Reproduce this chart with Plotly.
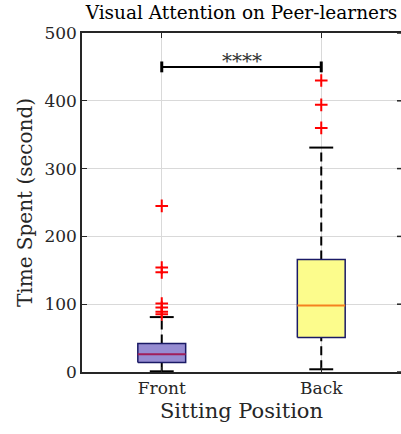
import plotly.graph_objects as go

# ---- data ----
categories = ["Front", "Back"]
cat_pos = [1, 2]
q1 = [14, 51]
median = [26, 98]
q3 = [42, 166]
whisker_low = [1, 4]
whisker_high = [81, 331]
outliers = [
    [245, 154, 147, 101, 95, 89, 85],
    [430, 394, 360],
]
sig_pair = [1, 2]
sig_y = 450
sig_label = "****"
y_ticks = [0, 100, 200, 300, 400, 500]

# ---- style ----
FONT = "DejaVu Serif"
fills = ["rgba(150,140,210,1)", "rgba(252,252,140,1)"]
median_colors = ["#A01E5A", "#F5821E"]
edge = "#1A1A66"
half_box = 0.15
half_cap = 0.075
AX = "#262626"

fig = go.Figure()

for i, c in enumerate(cat_pos):
    # whiskers (dashed)
    fig.add_trace(go.Scatter(x=[c, c], y=[q3[i], whisker_high[i]], mode="lines",
                             line=dict(color="black", width=2, dash="9px,5px"),
                             hoverinfo="skip", showlegend=False))
    fig.add_trace(go.Scatter(x=[c, c], y=[whisker_low[i], q1[i]], mode="lines",
                             line=dict(color="black", width=2, dash="9px,5px"),
                             hoverinfo="skip", showlegend=False))
    # caps
    for yv in (whisker_low[i], whisker_high[i]):
        fig.add_trace(go.Scatter(x=[c - half_cap, c + half_cap], y=[yv, yv], mode="lines",
                                 line=dict(color="black", width=2),
                                 hoverinfo="skip", showlegend=False))
    # box
    fig.add_trace(go.Scatter(
        x=[c - half_box, c + half_box, c + half_box, c - half_box, c - half_box],
        y=[q1[i], q1[i], q3[i], q3[i], q1[i]],
        mode="lines", fill="toself", fillcolor=fills[i],
        line=dict(color=edge, width=1.5), hoverinfo="skip", showlegend=False))
    # median
    fig.add_trace(go.Scatter(x=[c - half_box, c + half_box], y=[median[i], median[i]],
                             mode="lines", line=dict(color=median_colors[i], width=2),
                             hoverinfo="skip", showlegend=False))
    # outliers
    fig.add_trace(go.Scatter(x=[c] * len(outliers[i]), y=outliers[i], mode="markers",
                             marker=dict(symbol="cross-thin", size=9,
                                         line=dict(color="red", width=2)),
                             showlegend=False))

# significance bar
fig.add_trace(go.Scatter(x=sig_pair, y=[sig_y, sig_y], mode="lines",
                         line=dict(color="black", width=2), showlegend=False))
for xv in sig_pair:
    fig.add_trace(go.Scatter(x=[xv, xv], y=[sig_y - 8, sig_y + 8], mode="lines",
                             line=dict(color="black", width=3), showlegend=False))
fig.add_annotation(x=sum(sig_pair) / 2, y=sig_y + 8, text=sig_label, showarrow=False,
                   yanchor="middle", font=dict(family=FONT, size=20, color="#333"))

# right-side tick marks (the right border itself lies just off the canvas)
for yv in y_ticks:
    fig.add_shape(type="line", xref="paper", yref="y", x0=1 - 4 / 319, x1=1,
                  y0=yv, y1=yv, line=dict(color=AX, width=1.5))

fig.update_layout(
    width=401, height=434,
    margin=dict(l=82, r=0, t=33, b=62),
    paper_bgcolor="white", plot_bgcolor="white",
    font=dict(family=FONT, color=AX, size=17),
    title=dict(text="Visual Attention on Peer-learners", xref="paper", x=0.5,
               xanchor="center", y=0.985, yanchor="top",
               font=dict(family=FONT, size=18.5, color="black")),
)
fig.update_xaxes(range=[0.5, 2.5], tickvals=cat_pos, ticktext=categories,
                 showgrid=True, gridcolor="#D9D9D9", gridwidth=1,
                 showline=True, linecolor=AX, linewidth=1.5, mirror="ticks",
                 ticks="inside", ticklen=5, tickcolor=AX, zeroline=False,
                 tickfont=dict(size=17),
                 title=dict(text="Sitting Position", font=dict(size=21), standoff=6))
fig.update_yaxes(range=[0, 500], tickvals=y_ticks,
                 showgrid=True, gridcolor="#D9D9D9", gridwidth=1,
                 showline=True, linecolor=AX, linewidth=1.5, mirror=False,
                 ticks="inside", ticklen=5, tickcolor=AX, zeroline=False,
                 tickfont=dict(size=17),
                 title=dict(text="Time Spent (second)", font=dict(size=20), standoff=6))

fig.write_html("out.html")
